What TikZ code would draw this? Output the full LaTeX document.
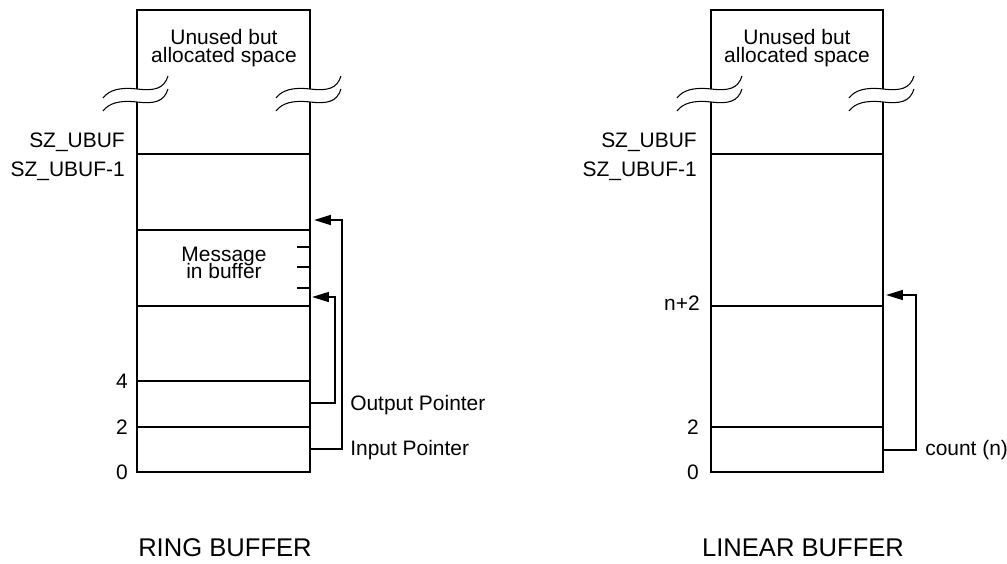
\documentclass[tikz,border=0pt]{standalone}
\usepackage{fontspec}
\setmainfont{Liberation Sans}
\usepackage{tikz}
\usetikzlibrary{positioning, arrows.meta, calc}
\setlength{\lineskiplimit}{-\maxdimen}
\tikzset{
    wall/.style={
        line width=1.35pt
    },
    brk/.style={
        line width=0.75pt
    },
    ptr/.style={
        line width=1.35pt,
        -{Triangle[length=12pt,width=7pt]}
    },
    lbl/.style={
        font=\fontsize{14.9}{12.6}\selectfont,
        inner sep=0pt
    },
    title/.style={
        font=\fontsize{18.2}{20}\selectfont,
        inner sep=0pt
    }
}
\newcommand{\wavebreak}[2]{%
  \foreach \dy in {0,13}
    \draw[brk, shift={(#1,#2+\dy)}] (-34,9) .. controls (-28,1) and (-17,-2) .. (0,0)
      .. controls (17,2) and (27,0) .. (31,-13);
}

\begin{document}
\begin{tikzpicture}[x=0.025cm, y=-0.025cm]
      \useasboundingbox (0,0) rectangle (1007,564);

      % ring buffer
      \draw[wall] (137,89) -- (137,10) -- (310,10) -- (310,89);
      \draw[wall] (137,102) -- (137,472) -- (310,472) -- (310,102);
      \wavebreak{137}{89}
      \wavebreak{310}{89}
      \foreach \y in {154,230,306,381,427}
        \draw[wall] (137,\y) -- (310,\y);
      \foreach \y in {247,267,288}
        \draw[wall] (297,\y) -- (310,\y);

      \node[lbl,align=center] (rfree) at (224,48) {Unused but\\allocated space};
      \node[lbl,align=center] (rmsg) at (224,263) {Message\\in buffer};
      \node[lbl,anchor=base east] (rtop) at (125,148) {SZ\_UBUF};
      \node[lbl,anchor=base east] (rtop1) at (125,177) {SZ\_UBUF-1};
      \node[lbl,anchor=east] (r4) at (128,381) {4};
      \node[lbl,anchor=east] (r2) at (128,427) {2};
      \node[lbl,anchor=east] (r0) at (128,472) {0};

      \coordinate (rout) at (310,403);
      \coordinate (routtip) at (312,297);
      \coordinate (rin) at (310,449);
      \coordinate (rintip) at (314,220);
      \draw[ptr] (rout) -- ++(25,0) |- (routtip);
      \draw[ptr] (rin) -- ++(32,0) |- (rintip);
      \node[lbl,anchor=west] (routlbl) at (350,405) {Output Pointer};
      \node[lbl,anchor=west] (rinlbl) at (350,450) {Input Pointer};

      \node[title] (rname) at (225,548) {RING BUFFER};

      % linear buffer
      \draw[wall] (711,89) -- (711,10) -- (883,10) -- (883,89);
      \draw[wall] (711,102) -- (711,472) -- (883,472) -- (883,102);
      \wavebreak{711}{89}
      \wavebreak{883}{89}
      \foreach \y in {154,306,427}
        \draw[wall] (711,\y) -- (883,\y);

      \node[lbl,align=center] (lfree) at (797,48) {Unused but\\allocated space};
      \node[lbl,anchor=base east] (ltop) at (697,148) {SZ\_UBUF};
      \node[lbl,anchor=base east] (ltop1) at (697,177) {SZ\_UBUF-1};
      \node[lbl,anchor=east] (ln2) at (700,303) {n+2};
      \node[lbl,anchor=east] (l2) at (699,427) {2};
      \node[lbl,anchor=east] (l0) at (699,472) {0};

      \coordinate (lcnt) at (883,450);
      \coordinate (lcnttip) at (886,295);
      \draw[ptr] (lcnt) -- ++(33,0) |- (lcnttip);
      \node[lbl,anchor=west] (lcntlbl) at (925,450) {count (n)};

      \node[title] (lname) at (803,548) {LINEAR BUFFER};

\end{tikzpicture}
\end{document}
